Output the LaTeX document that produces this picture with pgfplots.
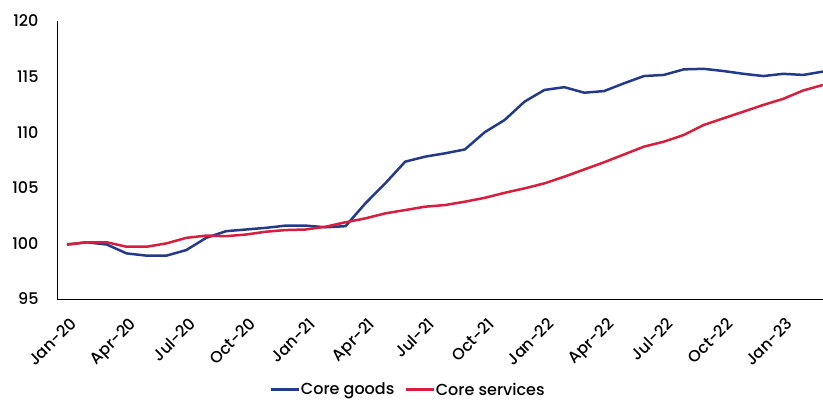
\documentclass[border=0pt]{standalone}
\usepackage{pgfplots}
\pgfplotsset{compat=1.18}
\usepackage{fontspec}
\setmainfont{Poppins}[UprightFont={* Medium}]

\definecolor{goodsblue}{HTML}{233A8B}
\definecolor{servred}{HTML}{D71E3C}

\begin{document}
\begin{tikzpicture}
\begin{axis}[%
at={(0,0)}, anchor=south west,
width=766bp,
height=278bp,
scale only axis,
font=\fontsize{16bp}{19bp}\selectfont,
xmin=-0.5, xmax=38,
ymin=95, ymax=120,
ytick={95,100,105,110,115,120},
xtick={0,3,...,36},
xticklabels={Jan-20,Apr-20,Jul-20,Oct-20,Jan-21,Apr-21,Jul-21,Oct-21,Jan-22,Apr-22,Jul-22,Oct-22,Jan-23},
xticklabel style={yshift=-16bp, xshift=2bp, rotate=45, anchor=north east, inner sep=1bp},
yticklabel style={xshift=-15bp},
/pgf/number format/assume math mode=true,
axis x line*=bottom,
axis y line*=left,
major tick length=0pt,
axis line style={black, line width=0.8bp, -},
tick style={draw=none},
legend style={at={(0.4576,-0.326)}, anchor=center, draw=none, fill=none,
  legend columns=2, nodes={inner sep=1bp},
  /tikz/every even column/.append style={column sep=9bp},
  font=\fontsize{16bp}{19bp}\selectfont, inner sep=0pt},
legend image code/.code={\draw[#1, line width=2.5bp] (0bp,0bp) -- (28bp,0bp);},
]
\addplot[color=goodsblue, line width=2.5bp] table {%
0 99.9
1 100.1
2 99.9
3 99.1
4 98.9
5 98.9
6 99.4
7 100.5
8 101.1
9 101.25
10 101.4
11 101.6
12 101.6
13 101.45
14 101.55
15 103.6
16 105.4
17 107.35
18 107.8
19 108.1
20 108.45
21 110.0
22 111.1
23 112.75
24 113.8
25 114.05
26 113.55
27 113.7
28 114.4
29 115.05
30 115.15
31 115.65
32 115.7
33 115.5
34 115.25
35 115.05
36 115.25
37 115.15
38 115.45
};
\addlegendentry{Core goods}
\addplot[color=servred, line width=2.5bp] table {%
0 99.9
1 100.1
2 100.1
3 99.7
4 99.7
5 100.0
6 100.5
7 100.7
8 100.65
9 100.8
10 101.05
11 101.2
12 101.25
13 101.5
14 101.9
15 102.25
16 102.7
17 103.0
18 103.3
19 103.45
20 103.75
21 104.1
22 104.55
23 104.95
24 105.4
25 106.0
26 106.65
27 107.3
28 108.0
29 108.7
30 109.15
31 109.75
32 110.65
33 111.25
34 111.85
35 112.45
36 113.0
37 113.75
38 114.25
};
\addlegendentry{Core services}
\end{axis}
\pgfresetboundingbox
\useasboundingbox (-57bp,-102bp) rectangle (766bp,299bp);
\end{tikzpicture}
\end{document}
